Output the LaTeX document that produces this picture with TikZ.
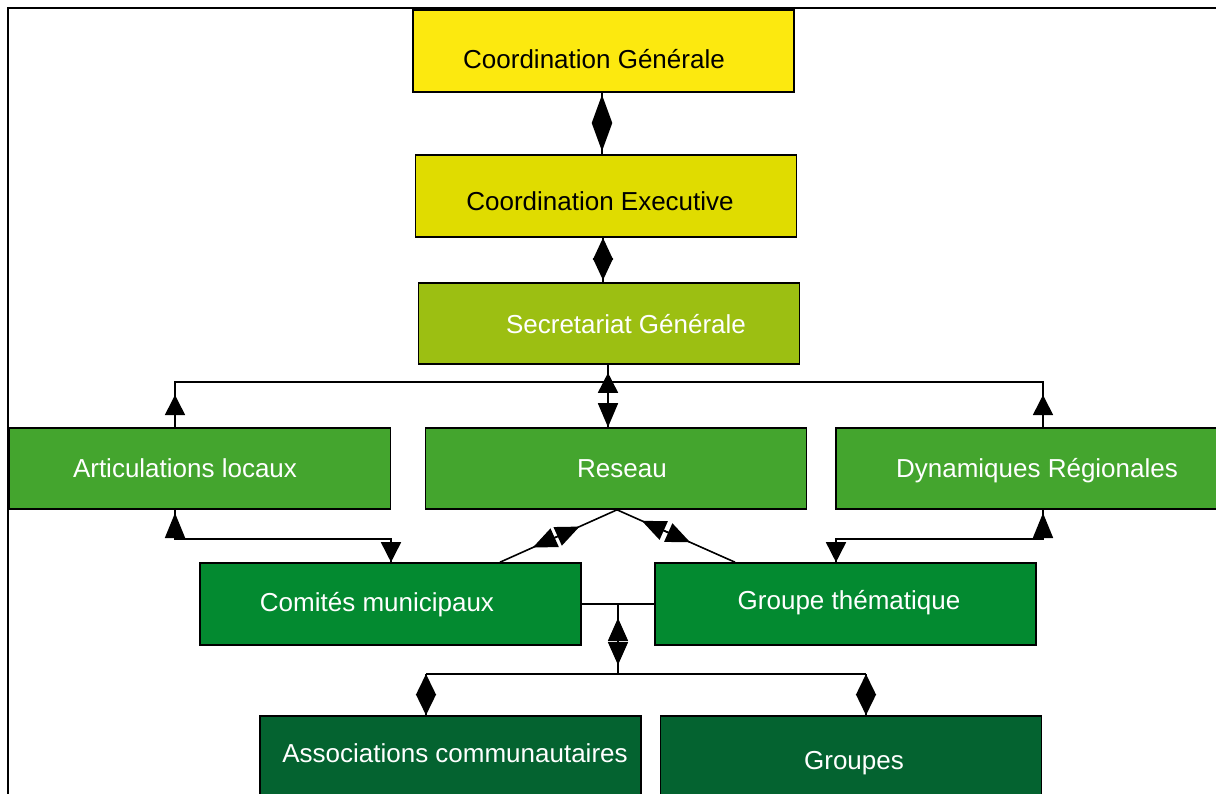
\documentclass[tikz,border=0pt]{standalone}
\usepackage{fontspec}
\setmainfont{Liberation Sans}
\usetikzlibrary{arrows.meta,calc}
\definecolor{cA}{RGB}{252,233,15}
\definecolor{cB}{RGB}{224,220,0}
\definecolor{cC}{RGB}{156,191,18}
\definecolor{cD}{RGB}{68,165,46}
\definecolor{cE}{RGB}{3,138,48}
\definecolor{cF}{RGB}{4,99,48}
\begin{document}
\begin{tikzpicture}[x=1pt,y=-1pt,
  box/.style={draw=black, line width=1.6pt, minimum width=381pt, minimum height=82pt, inner sep=0pt, anchor=center},
  lbl/.style={font=\fontsize{26}{30}\selectfont, text height=19pt, text depth=0pt, inner sep=0pt},
  conn/.style={line width=1.6pt},
  arrowhd/.style={conn, -{Triangle[length=#1, width=20pt]}}, arrowhd/.default=22pt,
  dblarrow/.style={conn, {Triangle[length=#1, width=20pt]}-{Triangle[length=#1, width=20pt]}}, dblarrow/.default=22pt]
\useasboundingbox (0,0) rectangle (1216,793);
\clip (0,0) rectangle (1216,793);
\draw[line width=2pt] (8,800) -- (8,8) -- (1220,8);

% boxes
\node[box, fill=cA] (c1) at (603.5,51) {};
\node[box, fill=cB] (c2) at (606,196) {};
\node[box, fill=cC, minimum height=81pt] (c3) at (609,323.5) {};
\node[box, fill=cD, minimum height=81pt] (c4) at (200,468.5) {};
\node[box, fill=cD, minimum height=81pt] (c5) at (616,468.5) {};
\node[box, fill=cD, minimum height=81pt] (c6) at (1026.5,468.5) {};
\node[box, fill=cE] (c7) at (390.5,604) {};
\node[box, fill=cE] (c8) at (845.5,604) {};
\node[box, fill=cF] (c9) at (450.5,757) {};
\node[box, fill=cF] (c10) at (851,757) {};

% labels
\node[lbl, text=black] (t1) at (594,59) {Coordination Générale};
\node[lbl, text=black] (t2) at (600,201) {Coordination Executive};
\node[lbl, text=white] (t3) at (626,324) {Secretariat Générale};
\node[lbl, text=white] (t4) at (185,468) {Articulations locaux};
\node[lbl, text=white] (t5) at (622,468) {Reseau};
\node[lbl, text=white] (t6) at (1037,468) {Dynamiques Régionales};
\node[lbl, text=white] (t7) at (377,602) {Comités municipaux};
\node[lbl, text=white] (t8) at (849,600) {Groupe thématique};
\node[lbl, text=white] (t9) at (455,753) {Associations communautaires};
\node[lbl, text=white] (t10) at (854,760) {Groupes};

% 1 - 2
\coordinate (p1) at ($(c1.south)+(-1.5,0)$);
\draw[conn] (p1) -- (p1 |- c2.north);
\draw[dblarrow=28pt, shorten <=2pt, shorten >=3pt] (p1) -- (p1 |- c2.north);
% 2 - 3
\coordinate (p2) at ($(c2.south)+(-3,0)$);
\draw[conn] (p2) -- (p2 |- c3.north);
\draw[dblarrow=22pt, shorten >=2pt] (p2) -- (p2 |- c3.north);
% 3 - 5 and bar
\coordinate (p3) at ($(c3.south)+(-1,0)$);
\coordinate (hl) at (175,382);
\coordinate (hr) at (1043,382);
\draw[conn] (p3) -- (p3 |- c5.north);
\draw[arrowhd=20pt] ($(p3)+(0,28)$) -- ($(p3)+(0,8)$);
\draw[arrowhd=24pt] ($(p3 |- c5.north)+(0,-24)$) -- (p3 |- c5.north);
\draw[conn] (c4.north -| hl) -- (hl) -- (hr) -- (c6.north -| hr);
\draw[arrowhd=20pt] ($(hl)+(0,33)$) -- ($(hl)+(0,13)$);
\draw[arrowhd=20pt] ($(hr)+(0,33)$) -- ($(hr)+(0,13)$);

% lower side links
\coordinate (ll) at (175,539);
\coordinate (lr) at (391,539);
\coordinate (rl) at (836,539);
\coordinate (rr) at (1043,539);
\draw[conn] (c4.south -| ll) -- (ll) -- (lr) -- (c7.north -| lr);
\draw[arrowhd=25pt] (ll) -- ($(ll)+(0,-26)$);
\draw[arrowhd=20pt] ($(lr)+(0,4)$) -- (c7.north -| lr);
\draw[conn] (c6.south -| rr) -- (rr) -- (rl) -- (c8.north -| rl);
\draw[arrowhd=25pt] (rr) -- ($(rr)+(0,-26)$);
\draw[arrowhd=20pt] ($(rl)+(0,4)$) -- (c8.north -| rl);

% diagonals from Reseau
\coordinate (dl) at (500,563);
\coordinate (dr) at (735,563);
\coordinate (apex) at ($(c5.south)+(1,0)$);
\draw[conn] (apex) -- (c7.north -| dl);
\draw[conn] (apex) -- (c8.north -| dr);
\draw[dblarrow=24pt] ($(apex)!0.32!(c7.north -| dl)$) -- ($(apex)!0.72!(c7.north -| dl)$);
\draw[dblarrow=24pt] ($(apex)!0.21!(c8.north -| dr)$) -- ($(apex)!0.62!(c8.north -| dr)$);

% bottom tree
\coordinate (mb) at (618,604);
\coordinate (bb) at (618,674);
\coordinate (bl) at (426,674);
\coordinate (br) at (866,674);
\draw[conn] (c7.east) -- (c8.west);
\draw[conn] (mb) -- (bb);
\draw[dblarrow=23pt] ($(mb)+(0,14)$) -- ($(mb)+(0,61)$);
\draw[conn] (bl) -- (br);
\draw[conn] (bl) -- (c9.north -| bl);
\draw[conn] (br) -- (c10.north -| br);
\draw[dblarrow=21pt] (bl) -- (c9.north -| bl);
\draw[dblarrow=21pt] (br) -- (c10.north -| br);
\end{tikzpicture}
\end{document}
